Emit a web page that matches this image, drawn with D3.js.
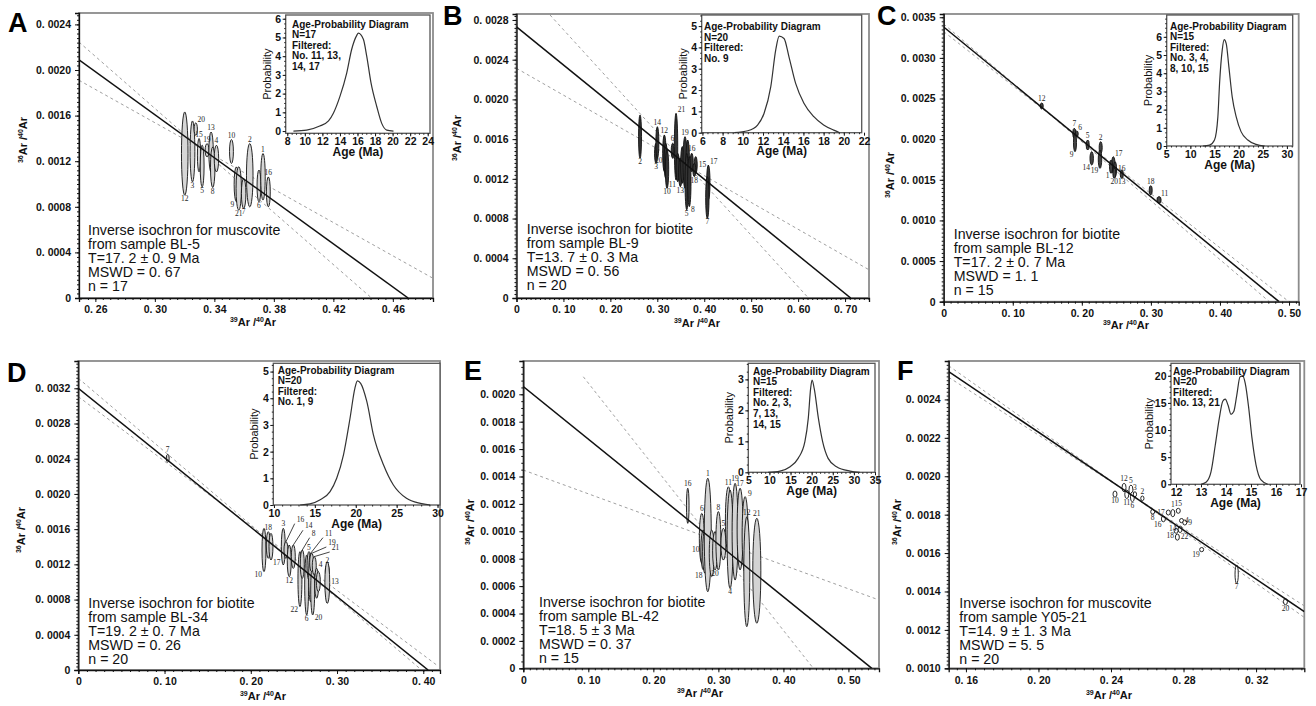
<!DOCTYPE html>
<html>
<head>
<meta charset="utf-8">
<script src="https://cdn.jsdelivr.net/npm/d3@7"></script>
<style>
  body { margin: 0; background: #fff; }
  svg { display: block; font-family: "Liberation Sans", Arial, sans-serif; }
</style>
</head>
<body>
<svg width="1316" height="706"></svg>
<script>
// ---- data ----
// ellipses: [label, 39Ar/40Ar, 36Ar/40Ar, half-width, half-height, label side]
const ellA = [
  ["12",0.3201,0.001267,0.0022,0.000365,"b"], ["3",0.3253,0.001286,0.0016,0.000267,"b"],
  ["20",0.3275,0.001482,0.0011,0.000054,"tr"], ["15",0.3297,0.001253,0.0011,0.000146,"t"],
  ["5",0.3318,0.001158,0.0013,0.000183,"b"], ["19",0.3351,0.001296,0.0013,0.000058,"t"],
  ["13",0.3378,0.001281,0.0015,0.000175,"t"], ["8",0.3389,0.001147,0.0015,0.000178,"b"],
  ["4",0.3414,0.001223,0.0015,0.000117,"t"], ["10",0.3515,0.001285,0.0013,0.000105,"t"],
  ["9",0.3548,0.000997,0.0015,0.000153,"bl"], ["21",0.3564,0.000961,0.0018,0.00019,"b"],
  ["7",0.3597,0.000917,0.0015,0.000131,"b"], ["2",0.3638,0.001077,0.0022,0.000278,"t"],
  ["6",0.3700,0.000983,0.0013,0.000139,"b"], ["1",0.3727,0.001063,0.0015,0.000204,"t"],
  ["16",0.3763,0.000931,0.0013,0.000131,"t"]
];
const ellB = [
  ["2",0.2632,0.001625,0.0032,0.000218,"b"], ["3",0.2973,0.001457,0.0032,0.000101,"b"],
  ["14",0.3001,0.001566,0.0032,0.000159,"t"], ["12",0.3150,0.001457,0.0036,0.000185,"t"],
  ["20",0.3179,0.001382,0.0036,0.000176,"l"], ["10",0.3207,0.001297,0.0036,0.000193,"b"],
  ["6",0.3328,0.001483,0.0032,0.000076,"t"], ["21",0.3399,0.001524,0.0036,0.000336,"tr"],
  ["11",0.3435,0.001314,0.0036,0.000143,"bl"], ["13",0.3491,0.001264,0.0036,0.000143,"b"],
  ["1",0.3533,0.00134,0.0036,0.000185,""], ["19",0.3590,0.001365,0.0043,0.00026,"t"],
  ["4",0.3648,0.00139,0.0036,0.000201,""], ["5",0.3627,0.001172,0.0036,0.000285,"b"],
  ["8",0.3682,0.001172,0.0036,0.000252,"br"], ["16",0.3733,0.001365,0.0032,0.000093,"t"],
  ["15",0.3818,0.00134,0.0032,0.000084,"r"], ["18",0.3789,0.001289,0.0032,0.000067,"b"],
  ["17",0.4087,0.001163,0.0036,0.000176,"tr"], ["7",0.4066,0.001012,0.0036,0.00021,"b"]
];
const ellC = [
  ["12",0.1419,0.002408,0.0022,0.000037,"t"], ["7",0.1891,0.002072,0.0022,0.0000615,"t"],
  ["6",0.1926,0.002066,0.0022,0.000035,"tr"], ["9",0.1901,0.001959,0.0022,0.000113,"bl"],
  ["5",0.2085,0.001928,0.0022,0.0000615,"t"], ["14",0.2143,0.001764,0.0025,0.000082,"bl"],
  ["2",0.2273,0.001897,0.0022,0.000072,"t"], ["19",0.2263,0.001754,0.0025,0.000113,"bl"],
  ["17",0.2456,0.001682,0.0025,0.000103,"tr"], ["1",0.2423,0.001661,0.0022,0.000082,"bl"],
  ["16",0.2481,0.001631,0.0022,0.000092,"r"], ["20",0.2471,0.00158,0.0022,0.0000615,"b"],
  ["13",0.2578,0.001569,0.0022,0.000051,"b"], ["18",0.2997,0.001371,0.0022,0.000057,"t"],
  ["11",0.3118,0.001252,0.0030,0.000041,"tr"]
];
const ellD = [
  ["7",0.1037,0.002405,0.0017,0.000045,"t"], ["10",0.2153,0.001363,0.0023,0.000246,"bl"],
  ["18",0.2203,0.00142,0.0023,0.000151,"t"], ["17",0.2234,0.001401,0.0023,0.000151,"br"],
  ["3",0.2377,0.001401,0.0023,0.000208,"t"], ["16",0.2408,0.001363,0.0023,0.000095,""],
  ["12",0.2446,0.00124,0.0023,0.00018,"b"], ["14",0.2493,0.001287,0.0023,0.000133,""],
  ["22",0.2570,0.001032,0.0023,0.000312,"bl"], ["8",0.2597,0.001202,0.0023,0.000161,""],
  ["6",0.2648,0.000966,0.0023,0.000341,"b"], ["5",0.2675,0.001184,0.0023,0.000161,"t"],
  ["11",0.2694,0.001051,0.0023,0.000275,""], ["20",0.2718,0.000909,0.0023,0.000284,"br"],
  ["19",0.2706,0.001221,0.0023,0.000104,""], ["21",0.2736,0.001184,0.0023,0.000104,""],
  ["4",0.2764,0.000985,0.0023,0.00017,"tr"], ["15",0.2783,0.001003,0.0023,0.000114,""],
  ["2",0.2887,0.001125,0.0023,0.00007,"t"], ["13",0.2887,0.000994,0.0028,0.000237,"r"]
];
// labels of panel D that are tied to their ellipse by a leader line
const leadD = [
  ["16",0.2532,0.001685], ["14",0.2628,0.00161], ["8",0.2706,0.001526],
  ["11",0.2860,0.001526], ["19",0.2899,0.00142], ["21",0.2938,0.001363]
];
const ellE = [
  ["16",0.2529,0.001186,0.0020,0.000128,"t"], ["6",0.2745,0.000949,0.0038,0.000182,"t"],
  ["10",0.2769,0.000864,0.0038,0.000146,"l"], ["18",0.2795,0.000851,0.0038,0.000158,"bl"],
  ["1",0.2837,0.000973,0.0054,0.000414,"t"], ["",0.2898,0.000839,0.0038,0.00017,""],
  ["20",0.2949,0.000858,0.0038,0.00014,"b"], ["8",0.3000,0.000931,0.0038,0.000213,"t"],
  ["5",0.3077,0.000906,0.0038,0.000116,"t"], ["11",0.3154,0.001082,0.0046,0.000243,"t"],
  ["4",0.3180,0.000942,0.0046,0.000359,"b"], ["19",0.3257,0.000997,0.0046,0.000353,"t"],
  ["17",0.3334,0.001016,0.0046,0.000298,"t"], ["9",0.3411,0.000973,0.0046,0.00028,"tr"],
  ["12",0.3437,0.000705,0.0046,0.000401,"t"], ["21",0.3591,0.000712,0.0062,0.000383,"t"]
];
const ellF = [
  ["10",0.2422,0.001907,0.0011,0.000016,"b"], ["12",0.2472,0.001941,0.0011,0.000022,"t"],
  ["11",0.2487,0.001906,0.0011,0.000022,"b"], ["5",0.2510,0.001928,0.0011,0.000026,"t"],
  ["6",0.2518,0.001893,0.0011,0.000026,"b"], ["3",0.2532,0.001906,0.0009,0.000013,"t"],
  ["2",0.2573,0.001885,0.0009,0.000012,"t"], ["8",0.2630,0.001815,0.0011,0.000012,"b"],
  ["16",0.2689,0.001778,0.0011,0.000015,"bl"], ["17",0.2716,0.001811,0.0011,0.000013,"l"],
  ["1",0.2741,0.001808,0.0011,0.000019,"t"], ["15",0.2771,0.00182,0.0011,0.000013,"t"],
  ["4",0.2789,0.001769,0.0011,0.000011,"r"], ["9",0.2807,0.001759,0.0011,0.000013,"r"],
  ["14",0.2781,0.001724,0.0011,0.000017,"l"], ["18",0.2759,0.001716,0.0011,0.000013,"bl"],
  ["22",0.2766,0.001683,0.0011,0.000016,"r"], ["19",0.2900,0.001618,0.0011,0.000011,"bl"],
  ["7",0.3093,0.00149,0.0009,0.000048,"b"], ["20",0.3362,0.001347,0.0011,0.000016,"b"]
];

// isochron lines (end points) and dashed error envelopes
const lineA = [[0.249,0.00209],[0.4703,0]];
const lineB = [[0,0.00273],[0.712,0]];
const lineC = [[0,0.00338],[0.4855,0]];
const lineD = [[0,0.0032],[0.4056,0]];
const lineE = [[0,0.002056],[0.536,0]];
const lineF = [[0.1505,0.002545],[0.3466,0.001295]];
const envA = [[[0.249,0.002245],[0.4457,0]], [[0.249,0.00191],[0.487,0.000173]]];
const envB = [[[0.0714,0.00285],[0.622,0]], [[0,0.002313],[0.7518,0.000282]]];
const envC = [[[0,0.003417],[0.4715,0]], [[0,0.003323],[0.4999,0]]];
const envD = [[[0,0.003314],[0.398,0]], [[0,0.003105],[0.4155,0.000057]]];
const envE = [[[0.0923,0.002128],[0.446,0]], [[0,0.001447],[0.5468,0.000499]]];
const envF = [[[0.1505,0.002575],[0.3466,0.001265]], [[0.1505,0.002515],[0.3466,0.001325]]];

// axis domains and ticks
const xDomA = [0.249,0.487], yDomA = [0,0.0025];
const xDomB = [0,0.751],    yDomB = [0,0.00286];
const xDomC = [0,0.514],    yDomC = [0,0.00354];
const xDomD = [0,0.4194],   yDomD = [0,0.00351];
const xDomE = [0,0.547],    yDomE = [0,0.002243];
const xDomF = [0.1505,0.3466], yDomF = [0.001,0.0026];
const xTicksA = [0.26,0.30,0.34,0.38,0.42,0.46];
const xTicksB = [0,0.1,0.2,0.3,0.4,0.5,0.6,0.7];
const xTicksC = [0,0.1,0.2,0.3,0.4,0.5];
const xTicksD = [0,0.1,0.2,0.3,0.4];
const xTicksE = [0,0.1,0.2,0.3,0.4,0.5];
const xTicksF = [0.16,0.20,0.24,0.28,0.32];
const yTicksA = [0,0.0004,0.0008,0.0012,0.0016,0.0020,0.0024];
const yTicksB = [0,0.0004,0.0008,0.0012,0.0016,0.0020,0.0024,0.0028];
const yTicksC = [0,0.0005,0.0010,0.0015,0.0020,0.0025,0.0030,0.0035];
const yTicksD = [0,0.0004,0.0008,0.0012,0.0016,0.0020,0.0024,0.0028,0.0032];
const yTicksE = [0,0.0002,0.0004,0.0006,0.0008,0.0010,0.0012,0.0014,0.0016,0.0018,0.0020];
const yTicksF = [0.0010,0.0012,0.0014,0.0016,0.0018,0.0020,0.0022,0.0024];

// age-probability insets
const agesA  = [8.7,10.2,11.7,12.7,13.25,14,14.77,15.34,15.9,16.1,16.67,17.05,17.54,18.2,18.76,19.33,20.1];
const probsA = [0,0.05,0.27,0.54,0.95,1.85,3.1,4.37,5.1,5.23,4.9,4.0,2.57,1.3,0.41,0.05,0];
const agesB  = [9.17,10.5,11.46,12.1,12.77,13.26,13.6,14.08,14.57,15.23,16.05,17.03,18,19,19.6];
const probsB = [0,0.09,0.36,0.9,2.16,3.88,4.53,4.42,3.56,2.31,1.38,0.75,0.36,0.12,0];
const agesC  = [12.6,13.98,15.0,15.7,16.05,16.6,17.0,17.43,17.98,18.67,19.5,20.5,21.9,23.6,25.4];
const probsC = [0,0.05,0.33,1.6,3.44,5.27,5.85,5.63,4.35,2.7,1.6,0.79,0.33,0.09,0];
const agesD  = [13.2,14.4,15.6,16.86,17.67,18.5,19.3,19.9,20.2,20.6,21.35,22.16,23.4,24.6,26.2,27.9,29.1];
const probsD = [0,0.04,0.19,0.5,1.0,1.88,3.25,4.38,4.65,4.56,3.88,2.63,1.5,0.75,0.25,0.06,0];
const agesE  = [9.7,12.5,14.9,16.8,18.4,19.2,19.76,20.1,20.6,21.6,22.6,23.9,25.9,29.1,31.4];
const probsE = [0,0.04,0.18,0.45,0.99,1.74,2.71,2.98,2.71,1.74,0.99,0.45,0.18,0.04,0];
const agesF  = [13,13.2,13.4,13.57,13.73,13.87,13.97,14.08,14.2,14.31,14.43,14.56,14.67,14.77,14.91,15.04,15.2,15.4,15.67];
const probsF = [0,0.37,2.3,7.2,12.1,15.3,15.7,14.6,12.9,13.4,16.4,19.8,20,18.6,14,8.5,3.6,0.8,0];
const ixDomA = [7.82,24.26], iyDomA = [-0.12,6.2];
const ixDomB = [5.93,21.77], iyDomB = [0,5.52];
const ixDomC = [5.1,31.2],   iyDomC = [0,7.2];
const ixDomD = [9.92,30.3],  iyDomD = [0,5.31];
const ixDomE = [5,35],       iyDomE = [0,3.52];
const ixDomF = [11.8,16.96], iyDomF = [0,22.3];
const ixTicksA = [8,10,12,14,16,18,20,22,24], iyTicksA = [0,1,2,3,4,5,6];
const ixTicksB = [6,8,10,12,14,16,18,20,22],  iyTicksB = [0,1,2,3,4,5];
const ixTicksC = [5,10,15,20,25,30],          iyTicksC = [0,1,2,3,4,5,6];
const ixTicksD = [10,15,20,25,30],            iyTicksD = [0,1,2,3,4,5];
const ixTicksE = [5,10,15,20,25,30,35],       iyTicksE = [0,1,2,3];
const ixTicksF = [12,13,14,15,16,17],         iyTicksF = [0,5,10,15,20];
const insetA = ["Age-Probability Diagram","N=17","Filtered:","No. 11, 13,","14, 17"];
const insetB = ["Age-Probability Diagram","N=20","Filtered:","No. 9"];
const insetC = ["Age-Probability Diagram","N=15","Filtered:","No. 3, 4,","8, 10, 15"];
const insetD = ["Age-Probability Diagram","N=20","Filtered:","No. 1, 9"];
const insetE = ["Age-Probability Diagram","N=15","Filtered:","No. 2, 3,","7, 13,","14, 15"];
const insetF = ["Age-Probability Diagram","N=20","Filtered:","No. 13, 21"];

const noteA = ["Inverse isochron for muscovite","from sample BL-5","T=17. 2 \u00b1 0. 9 Ma","MSWD = 0. 67","n = 17"];
const noteB = ["Inverse isochron for biotite","from sample BL-9","T=13. 7 \u00b1 0. 3 Ma","MSWD = 0. 56","n = 20"];
const noteC = ["Inverse isochron for biotite","from sample BL-12","T=17. 2 \u00b1 0. 7 Ma","MSWD = 1. 1","n = 15"];
const noteD = ["Inverse isochron for biotite","from sample BL-34","T=19. 2 \u00b1 0. 7 Ma","MSWD = 0. 26","n = 20"];
const noteE = ["Inverse isochron for biotite","from sample BL-42","T=18. 5 \u00b1 3 Ma","MSWD = 0. 37","n = 15"];
const noteF = ["Inverse isochron for muscovite","from sample Y05-21","T=14. 9 \u00b1 1. 3 Ma","MSWD = 5. 5","n = 20"];

// ---- panel table (data + layout) ----
const panels = [
  { id:"A", ell:ellA, line:lineA, env:envA, xDom:xDomA, yDom:yDomA, xt:xTicksA, yt:yTicksA, xDec:2, yDec:4,
    ages:agesA, probs:probsA, ixDom:ixDomA, iyDom:iyDomA, ixt:ixTicksA, iyt:iyTicksA, inset:insetA, note:noteA,
    l:79, r:433, t:13, b:298, il:285.7, ir:430, it:15, ib:133.3, letter:[8,32], noteAt:[88,235], itext:[292,27.5],
    ytitle:[27,140], xtitle:[253,326], xMinor:0.005, yMinor:0.00004, ixMinor:0.5, iyMinor:0.25, fill:"#d6d6d6" },
  { id:"B", ell:ellB, line:lineB, env:envB, xDom:xDomB, yDom:yDomB, xt:xTicksB, yt:yTicksB, xDec:2, yDec:4,
    ages:agesB, probs:probsB, ixDom:ixDomB, iyDom:iyDomB, ixt:ixTicksB, iyt:iyTicksB, inset:insetB, note:noteB,
    l:516.5, r:869, t:14, b:298, il:701.7, ir:861.7, it:15, ib:132.7, letter:[443,25], noteAt:[526.7,234], itext:[704,30],
    ytitle:[461,138], xtitle:[697,327], xMinor:0.01, yMinor:0.00004, ixMinor:0.5, iyMinor:0.25, fill:"#333" },
  { id:"C", ell:ellC, line:lineC, env:envC, xDom:xDomC, yDom:yDomC, xt:xTicksC, yt:yTicksC, xDec:2, yDec:4,
    ages:agesC, probs:probsC, ixDom:ixDomC, iyDom:iyDomC, ixt:ixTicksC, iyt:iyTicksC, inset:insetC, note:noteC,
    l:943.7, r:1298.7, t:14, b:301.7, il:1166.7, ir:1292.7, it:15, ib:146, letter:[877,25], noteAt:[953.7,239], itext:[1170,29.5],
    ytitle:[894,175], xtitle:[1126,329], xMinor:0.01, yMinor:0.00005, ixMinor:1, iyMinor:0.25, fill:"#444" },
  { id:"D", ell:ellD, line:lineD, env:envD, xDom:xDomD, yDom:yDomD, xt:xTicksD, yt:yTicksD, xDec:2, yDec:4,
    ages:agesD, probs:probsD, ixDom:ixDomD, iyDom:iyDomD, ixt:ixTicksD, iyt:iyTicksD, inset:insetD, note:noteD,
    l:78.3, r:440, t:361, b:670, il:273.3, ir:440, it:363.3, ib:505, letter:[7,382], noteAt:[88.3,608], itext:[277.7,373.5],
    ytitle:[25,530], xtitle:[263,700], xMinor:0.01, yMinor:0.00004, ixMinor:1, iyMinor:0.25, fill:"#d0d0d0", lead:leadD },
  { id:"E", ell:ellE, line:lineE, env:envE, xDom:xDomE, yDom:yDomE, xt:xTicksE, yt:yTicksE, xDec:2, yDec:4,
    ages:agesE, probs:probsE, ixDom:ixDomE, iyDom:iyDomE, ixt:ixTicksE, iyt:iyTicksE, inset:insetE, note:noteE,
    l:523.3, r:879, t:361, b:668.3, il:748.3, ir:875, it:363.3, ib:472.3, letter:[464,380], noteAt:[539,607], itext:[753,374.5],
    ytitle:[474,522], xtitle:[700,697], xMinor:0.01, yMinor:0.00005, ixMinor:1, iyMinor:0.25, fill:"#d3d3d3" },
  { id:"F", ell:ellF, line:lineF, env:envF, xDom:xDomF, yDom:yDomF, xt:xTicksF, yt:yTicksF, xDec:2, yDec:4,
    ages:agesF, probs:probsF, ixDom:ixDomF, iyDom:iyDomF, ixt:ixTicksF, iyt:iyTicksF, inset:insetF, note:noteF,
    l:948.7, r:1304.3, t:361, b:668.3, il:1171, ir:1300, it:363.3, ib:484.3, letter:[897,380], noteAt:[959.3,608], itext:[1173,374.5],
    ytitle:[901,522], xtitle:[1109,699], xMinor:0.005, yMinor:0.00002, ixMinor:0.25, iyMinor:1, fill:"#fff" }
];

const svg = d3.select("svg");
const defs = svg.append("defs");

// "0. 0024" style tick labels
const tickFmt = dec => d => Math.abs(d) < 1e-12 ? "0" : d.toFixed(dec).replace(".", ". ");
const minorTicks = (dom, step) => d3.range(Math.ceil(dom[0] / step - 1e-6), Math.floor(dom[1] / step + 1e-6) + 1).map(i => i * step);

function styleAxis(g, size) {
  g.select(".domain").attr("stroke", "#111").attr("stroke-width", 1.3);
  g.selectAll(".tick line").attr("stroke", "#111").attr("stroke-width", 1);
  g.selectAll(".tick text").attr("fill", "#111").attr("font-size", size).attr("font-weight", "bold")
    .attr("font-family", "'Liberation Sans', Arial, sans-serif");
}

// 36Ar/40Ar style label with superscripts
function ratioLabel(sel, top) {
  sel.append("tspan").attr("font-size", 7).attr("dy", -4).text(top);
  sel.append("tspan").attr("font-size", 11).attr("dy", 4).text("Ar /");
  sel.append("tspan").attr("font-size", 7).attr("dy", -4).text("40");
  sel.append("tspan").attr("font-size", 11).attr("dy", 4).text("Ar");
}

function labelPos(d, x, y) {
  const cx = x(d[1]), cy = y(d[2]);
  const rx = Math.abs(x(d[1] + d[3]) - cx), ry = Math.abs(y(d[2] + d[4]) - cy);
  switch (d[5]) {
    case "t":  return [cx, cy - ry - 2, "middle"];
    case "b":  return [cx, cy + ry + 6, "middle"];
    case "l":  return [cx - rx - 1.5, cy + 2, "end"];
    case "r":  return [cx + rx + 1.5, cy + 2, "start"];
    case "tr": return [cx + rx, cy - ry - 1, "start"];
    case "bl": return [cx - rx, cy + ry + 5, "end"];
    case "br": return [cx + rx, cy + ry + 5, "start"];
  }
  return null;
}

panels.forEach(p => {
  const g = svg.append("g");
  const x = d3.scaleLinear().domain(p.xDom).range([p.l, p.r]);
  const y = d3.scaleLinear().domain(p.yDom).range([p.b, p.t]);

  // frame
  g.append("rect").attr("x", p.l).attr("y", p.t).attr("width", p.r - p.l).attr("height", p.b - p.t)
    .attr("fill", "none").attr("stroke", "#8c8c8c").attr("stroke-width", 1.8);

  defs.append("clipPath").attr("id", "clip" + p.id).append("rect")
    .attr("x", p.l).attr("y", p.t).attr("width", p.r - p.l).attr("height", p.b - p.t);
  const plot = g.append("g").attr("clip-path", `url(#clip${p.id})`);

  const seg = d3.line().x(d => x(d[0])).y(d => y(d[1]));

  // error envelope
  p.env.forEach(e => plot.append("path").attr("d", seg(e)).attr("fill", "none")
    .attr("stroke", "#a0a0a0").attr("stroke-width", 1).attr("stroke-dasharray", "3,3"));

  // error ellipses
  plot.selectAll("ellipse.pt").data(p.ell).join("ellipse").attr("class", "pt")
    .attr("cx", d => x(d[1])).attr("cy", d => y(d[2]))
    .attr("rx", d => Math.abs(x(d[1] + d[3]) - x(d[1])))
    .attr("ry", d => Math.abs(y(d[2] + d[4]) - y(d[2])))
    .attr("fill", p.fill).attr("stroke", "#111").attr("stroke-width", 0.9);

  // isochron
  plot.append("path").attr("d", seg(p.line)).attr("fill", "none").attr("stroke", "#111").attr("stroke-width", 1.5);

  // step numbers (group opacity keeps the tiny serif digits grey, not colour-fringed)
  const nums = g.append("g").attr("opacity", 0.98);
  p.ell.forEach(d => {
    const pos = labelPos(d, x, y);
    if (!pos || !d[0]) return;
    nums.append("text").attr("x", pos[0]).attr("y", pos[1]).attr("text-anchor", pos[2])
      .attr("font-family", "'Liberation Serif', serif").attr("font-size", 7.5).attr("fill", "#222").text(d[0]);
  });
  (p.lead || []).forEach(d => {
    const e = p.ell.find(q => q[0] === d[0]);
    const lx = x(d[1]), ly = y(d[2]);
    nums.append("line").attr("x1", lx - 2).attr("y1", ly + 2)
      .attr("x2", x(e[1])).attr("y2", y(e[2] + e[4]))
      .attr("stroke", "#111").attr("stroke-width", 0.8);
    nums.append("text").attr("x", lx).attr("y", ly).attr("font-family", "'Liberation Serif', serif")
      .attr("font-size", 7.5).attr("fill", "#222").text(d[0]);
  });

  // axes
  const gx = g.append("g").attr("transform", `translate(0,${p.b})`)
    .call(d3.axisBottom(x).tickValues(p.xt).tickFormat(tickFmt(p.xDec)).tickSize(4).tickPadding(4));
  styleAxis(gx, 10.5);
  const gxm = g.append("g").attr("transform", `translate(0,${p.b})`)
    .call(d3.axisBottom(x).tickValues(minorTicks(p.xDom, p.xMinor)).tickFormat("").tickSize(2));
  gxm.select(".domain").remove();
  gxm.selectAll(".tick line").attr("stroke", "#111");

  const gy = g.append("g").attr("transform", `translate(${p.l},0)`)
    .call(d3.axisLeft(y).tickValues(p.yt).tickFormat(tickFmt(p.yDec)).tickSize(4).tickPadding(4));
  styleAxis(gy, 10.5);
  const gym = g.append("g").attr("transform", `translate(${p.l},0)`)
    .call(d3.axisLeft(y).tickValues(minorTicks(p.yDom, p.yMinor)).tickFormat("").tickSize(2));
  gym.select(".domain").remove();
  gym.selectAll(".tick line").attr("stroke", "#111");

  // axis titles
  const xt = g.append("text").attr("x", p.xtitle[0]).attr("y", p.xtitle[1]).attr("text-anchor", "middle")
    .attr("font-weight", "bold").attr("fill", "#111");
  ratioLabel(xt, "39");
  const yt = g.append("text").attr("transform", `translate(${p.ytitle[0]},${p.ytitle[1]}) rotate(-90)`)
    .attr("text-anchor", "middle").attr("font-weight", "bold").attr("fill", "#111");
  ratioLabel(yt, "36");

  // annotation
  g.append("g").selectAll("text").data(p.note).join("text")
    .attr("x", p.noteAt[0]).attr("y", (d, i) => p.noteAt[1] + i * 14)
    .attr("font-size", 14.2).attr("fill", "#111").text(d => d);

  // panel letter
  g.append("text").attr("x", p.letter[0]).attr("y", p.letter[1]).attr("font-size", 27)
    .attr("font-weight", "bold").attr("fill", "#000").text(p.id);

  // ---- inset ----
  const ix = d3.scaleLinear().domain(p.ixDom).range([p.il, p.ir]);
  const iy = d3.scaleLinear().domain(p.iyDom).range([p.ib, p.it]);
  g.append("rect").attr("x", p.il).attr("y", p.it).attr("width", p.ir - p.il).attr("height", p.ib - p.it)
    .attr("fill", "#fff").attr("stroke", "#555").attr("stroke-width", 1.3);

  const gix = g.append("g").attr("transform", `translate(0,${p.ib})`)
    .call(d3.axisBottom(ix).tickValues(p.ixt).tickFormat(d3.format("d")).tickSize(3).tickPadding(1.5));
  styleAxis(gix, 10.5);
  gix.select(".domain").remove();
  const gixm = g.append("g").attr("transform", `translate(0,${p.ib})`)
    .call(d3.axisBottom(ix).tickValues(minorTicks(p.ixDom, p.ixMinor)).tickFormat("").tickSize(1.5));
  gixm.select(".domain").remove();
  gixm.selectAll(".tick line").attr("stroke", "#222");

  const giy = g.append("g").attr("transform", `translate(${p.il},0)`)
    .call(d3.axisLeft(iy).tickValues(p.iyt).tickFormat(d3.format("d")).tickSize(3).tickPadding(1.5));
  styleAxis(giy, 10.5);
  giy.select(".domain").remove();
  const giym = g.append("g").attr("transform", `translate(${p.il},0)`)
    .call(d3.axisLeft(iy).tickValues(minorTicks(p.iyDom, p.iyMinor)).tickFormat("").tickSize(1.5));
  giym.select(".domain").remove();
  giym.selectAll(".tick line").attr("stroke", "#222");

  const curve = d3.line().curve(d3.curveMonotoneX).x(d => ix(d[0])).y(d => iy(d[1]));
  g.append("path").attr("d", curve(p.ages.map((a, i) => [a, p.probs[i]])))
    .attr("fill", "none").attr("stroke", "#333").attr("stroke-width", 1.2);

  g.append("g").selectAll("text").data(p.inset).join("text")
    .attr("x", p.itext[0]).attr("y", (d, i) => p.itext[1] + i * 10.6)
    .attr("font-size", 10).attr("font-weight", "bold").attr("fill", "#111").text(d => d);

  const probX = p.il - (p.iyt[p.iyt.length - 1] >= 10 ? 22 : 19);
  g.append("text").attr("transform", `translate(${probX},${(p.it + p.ib) / 2}) rotate(-90)`)
    .attr("text-anchor", "middle").attr("dy", "0.35em").attr("font-size", 11).attr("fill", "#111").text("Probability");
  g.append("text").attr("x", (p.il + p.ir) / 2).attr("y", p.ib + 22.5).attr("text-anchor", "middle")
    .attr("font-size", 12).attr("font-weight", "bold").attr("fill", "#111").text("Age (Ma)");
});
</script>
</body>
</html>
